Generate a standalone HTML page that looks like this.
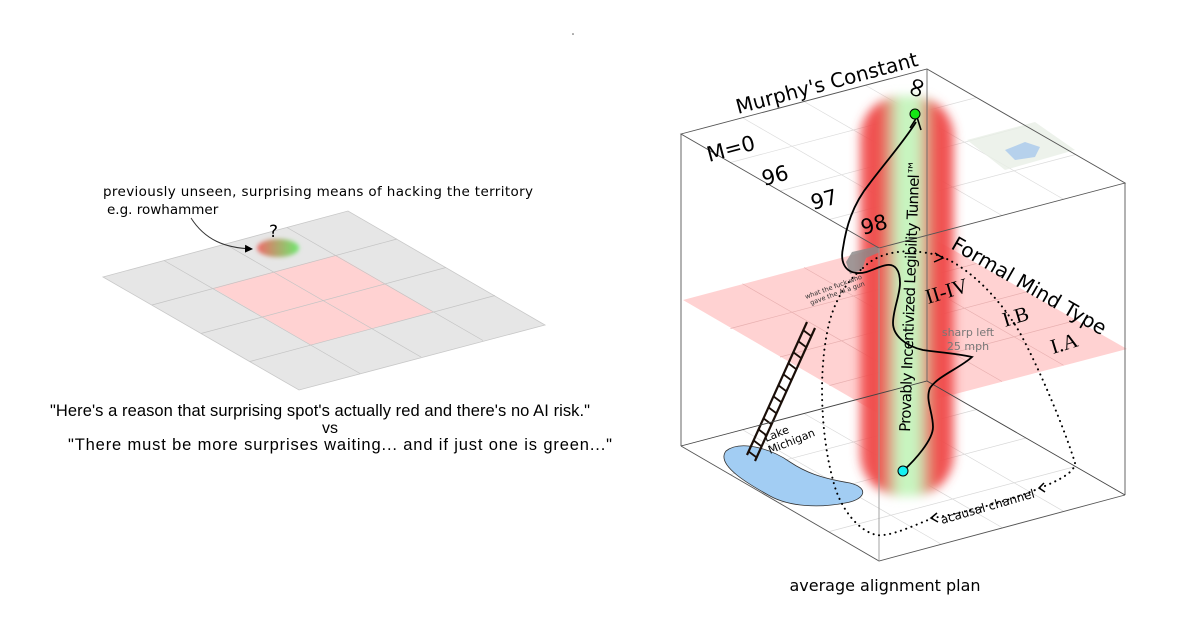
<!DOCTYPE html>
<html><head><meta charset="utf-8"><style>
html,body{margin:0;padding:0;background:#fff;}
svg{display:block;}
text{font-family:"DejaVu Sans","Liberation Sans",sans-serif;}
</style></head><body>
<svg width="1180" height="624" viewBox="0 0 1180 624" xmlns="http://www.w3.org/2000/svg">
<defs>
<linearGradient id="rg" x1="0" x2="1" y1="0" y2="0">
<stop offset="0" stop-color="#ef6a6a"/><stop offset="1" stop-color="#6ee86e"/>
</linearGradient>
<linearGradient id="tun" x1="0" x2="1" y1="0" y2="0">
<stop offset="0" stop-color="#f04848" stop-opacity="0.85"/>
<stop offset="0.2" stop-color="#f04848"/>
<stop offset="0.42" stop-color="#c8f5c0"/>
<stop offset="0.6" stop-color="#c8f5c0"/>
<stop offset="0.82" stop-color="#f04848"/>
<stop offset="1" stop-color="#f04848" stop-opacity="0.85"/>
</linearGradient>
<filter id="bl" x="-30%" y="-30%" width="160%" height="160%"><feGaussianBlur stdDeviation="5"/></filter>
<filter id="bl2" x="-30%" y="-30%" width="160%" height="160%"><feGaussianBlur stdDeviation="2"/></filter>
<marker id="ah" markerWidth="8" markerHeight="8" refX="7" refY="4" orient="auto"><path d="M0,0 L8,4 L0,8 z" fill="#000"/></marker>
</defs>

<!-- LEFT PANEL -->
<polygon points="103,277 348,211 545,325 299,390" fill="#e6e6e6" stroke="#c8c8c8" stroke-width="0.8"/>
<polygon points="213,288 336,255 434,312 311,345" fill="#ffd2d2"/>
<g stroke="#c4c4c4" stroke-width="0.7" fill="none">
<line x1="152" y1="305" x2="397" y2="239"/>
<line x1="201" y1="333.5" x2="446" y2="267.5"/>
<line x1="250" y1="361.5" x2="495" y2="295.5"/>
<line x1="164" y1="260.5" x2="360" y2="373.5"/>
<line x1="225" y1="244" x2="421" y2="357"/>
<line x1="287" y1="227.5" x2="483" y2="340.5"/>
</g>
<ellipse cx="278" cy="248" rx="21" ry="9" fill="url(#rg)" filter="url(#bl2)"/>
<text x="269" y="237" font-size="17">?</text>
<path d="M191,218 C205,240 225,248 252,249" fill="none" stroke="#333" stroke-width="1" marker-end="url(#ah)"/>
<text x="103" y="196" font-size="13.5" textLength="430">previously unseen, surprising means of hacking the territory</text>
<text x="107" y="214" font-size="13.5">e.g. rowhammer</text>
<text x="50" y="416" font-size="16.5" textLength="540" style="font-family:'Liberation Sans',sans-serif">"Here's a reason that surprising spot's actually red and there's no AI risk."</text>
<text x="330" y="433" font-size="16" text-anchor="middle" style="font-family:'Liberation Sans',sans-serif">vs</text>
<text x="68" y="450" font-size="16.5" textLength="544" style="font-family:'Liberation Sans',sans-serif">"There must be more surprises waiting... and if just one is green..."</text>
<circle cx="573" cy="34" r="0.8" fill="#555"/>

<!-- RIGHT CUBE -->
<g stroke="#d8d8d8" stroke-width="0.7" fill="none">
<line x1="730.5" y1="474.5" x2="976.5" y2="409.5"/><line x1="780" y1="503" x2="1026" y2="438"/><line x1="829.5" y1="531.5" x2="1075.5" y2="466.5"/>
<line x1="742.5" y1="429.75" x2="940.5" y2="543.75"/><line x1="804" y1="413.5" x2="1002" y2="527.5"/><line x1="865.5" y1="397.25" x2="1063.5" y2="511.25"/>
</g>
<path d="M726,451 C740,440 770,448 790,462 C805,472 820,478 850,483 C870,488 865,500 845,503 C820,508 790,507 770,496 C750,485 715,465 726,451 Z" fill="#a2cdf3" stroke="#333" stroke-width="0.8"/>
<text transform="translate(766,442) rotate(-22)" font-size="11">Lake</text>
<text transform="translate(770,454) rotate(-22)" font-size="11">Michigan</text>
<!-- pink plane -->
<polygon points="683,300 927,235 1127,349 879,414" fill="#ffcaca" opacity="0.85"/>
<g stroke="#e8b0b0" stroke-width="0.7" fill="none">
<line x1="730.5" y1="328.5" x2="976.5" y2="263.5"/><line x1="780" y1="357" x2="1026" y2="292"/><line x1="829.5" y1="385.5" x2="1075.5" y2="320.5"/>
<line x1="742.5" y1="283.75" x2="940.5" y2="397.75"/><line x1="804" y1="267.5" x2="1002" y2="381.5"/><line x1="865.5" y1="251.25" x2="1063.5" y2="365.25"/>
</g>
<!-- ladder -->
<g stroke="#1a0e08" stroke-width="2.2">
<line x1="807" y1="322" x2="747" y2="455"/>
<line x1="815" y1="328" x2="755" y2="461"/>
</g>
<g stroke="#1a0e08" stroke-width="1.8">
<line x1="803" y1="330" x2="811" y2="336"/><line x1="798" y1="341" x2="806" y2="347"/><line x1="793" y1="352" x2="801" y2="358"/><line x1="788" y1="363" x2="796" y2="369"/><line x1="783" y1="374" x2="791" y2="380"/><line x1="778" y1="385" x2="786" y2="391"/><line x1="773" y1="396" x2="781" y2="402"/><line x1="768" y1="407" x2="776" y2="413"/><line x1="763" y1="418" x2="771" y2="424"/><line x1="758" y1="429" x2="766" y2="435"/><line x1="753" y1="440" x2="761" y2="446"/><line x1="748" y1="451" x2="756" y2="457"/>
</g>
<!-- top face grid -->
<g stroke="#dcdcdc" stroke-width="0.7" fill="none">
<line x1="730.5" y1="162.5" x2="976.5" y2="97.5"/><line x1="780" y1="191" x2="1026" y2="126"/><line x1="829.5" y1="219.5" x2="1075.5" y2="154.5"/>
<line x1="742.5" y1="117.75" x2="940.5" y2="231.75"/><line x1="804" y1="101.5" x2="1002" y2="215.5"/><line x1="865.5" y1="85.25" x2="1063.5" y2="199.25"/>
</g>
<polygon points="967,140 1035,122 1075,150 1005,170" fill="#e8efe6" opacity="0.8"/>
<path d="M1005,150 l20,-8 l15,5 l-5,10 l-20,3 z" fill="#a8c8ec" opacity="0.8"/>
<!-- tunnel -->
<rect x="860" y="96" width="94" height="400" rx="42" fill="url(#tun)" filter="url(#bl)"/>
<!-- gun -->
<path d="M846,262 L852,252 L878,246 L880,252 L866,258 L862,270 L850,274 Z" fill="#888" opacity="0.8"/>
<text transform="translate(806,299) rotate(-20)" font-size="6.5" fill="#333">what the fuck who</text>
<text transform="translate(811,305) rotate(-20)" font-size="6.5" fill="#333">gave the AI a gun</text>
<!-- cube edges -->
<g stroke="#555" stroke-width="0.9" fill="none">
<polygon points="681,134 927,69 1125,183 879,248"/>
<line x1="681" y1="134" x2="681" y2="446"/>
<line x1="1125" y1="183" x2="1125" y2="495"/>
<polyline points="681,446 879,561 1125,495"/>
<line x1="879" y1="248" x2="879" y2="561" stroke="#999"/>
<line x1="927" y1="69" x2="927" y2="381" stroke="#666"/>
<polyline points="681,446 927,381 1125,495" stroke="#444"/>
</g>
<!-- dotted loop -->
<path d="M863,268 C875,255 900,246 937,255 C960,262 995,290 1020,333 C1040,370 1065,430 1075,463 C1075,472 1060,480 1040,488 C1000,505 950,515 933,518 C915,525 890,537 877,535 C860,532 840,510 833,480 C822,440 818,380 827,333 C833,300 848,280 863,268" fill="none" stroke="#000" stroke-width="2" stroke-dasharray="0.1 5.5" stroke-linecap="round"/>
<path d="M935,253 L943,258 L934,262" fill="none" stroke="#000" stroke-width="1.5"/>
<path d="M1044,483 L1039,488 L1045,492" fill="none" stroke="#000" stroke-width="1.5"/>
<path d="M937,513 L931,518 L938,522" fill="none" stroke="#000" stroke-width="1.5"/>
<text transform="translate(942,524) rotate(-16)" font-size="12">acausal channel</text>
<!-- path -->
<path d="M903,471 C915,460 933,440 933,427 C933,412 925,400 930,388 C938,376 960,368 972,357 C955,353 935,352 923,350 C905,346 893,335 893,323 C893,310 900,295 900,283 C900,270 895,264 887,265 C878,266 868,274 857,273 C845,272 840,262 843,248 C846,228 852,205 870,183 C885,163 905,140 916,122" fill="none" stroke="#000" stroke-width="1.8"/>
<path d="M910,128 L917,117 L921,130" fill="none" stroke="#000" stroke-width="1.6"/>
<circle cx="915" cy="114" r="5" fill="#14e614" stroke="#000" stroke-width="1"/>
<circle cx="903" cy="471" r="5" fill="#14f0f0" stroke="#000" stroke-width="1"/>
<!-- labels -->
<text transform="translate(738,114) rotate(-15)" font-size="20">Murphy's Constant</text>
<text transform="translate(709,162) rotate(-15)" font-size="21">M=0</text>
<text transform="translate(764,186) rotate(-15)" font-size="21">96</text>
<text transform="translate(813,210) rotate(-15)" font-size="21">97</text>
<text transform="translate(863,235) rotate(-15)" font-size="21">98</text>
<text transform="translate(925,90) rotate(-75)" font-size="28" text-anchor="middle">∞</text>
<text transform="translate(950,248) rotate(30)" font-size="20">Formal Mind Type</text>
<text transform="translate(928,304) rotate(-17)" font-size="21" style="font-family:'Liberation Serif',serif">II-IV</text>
<text transform="translate(1005,327) rotate(-17)" font-size="21" style="font-family:'Liberation Serif',serif">I.B</text>
<text transform="translate(1053,354) rotate(-17)" font-size="21" style="font-family:'Liberation Serif',serif">I.A</text>
<text x="968" y="336" font-size="11" fill="#777" text-anchor="middle">sharp left</text>
<text x="968" y="350" font-size="11" fill="#777" text-anchor="middle">25 mph</text>
<text transform="translate(910,432) rotate(-88)" font-size="15" textLength="272">Provably Incentivized Legibility Tunnel™</text>
<text x="885" y="591" font-size="16" text-anchor="middle">average alignment plan</text>
</svg>
</body></html>
